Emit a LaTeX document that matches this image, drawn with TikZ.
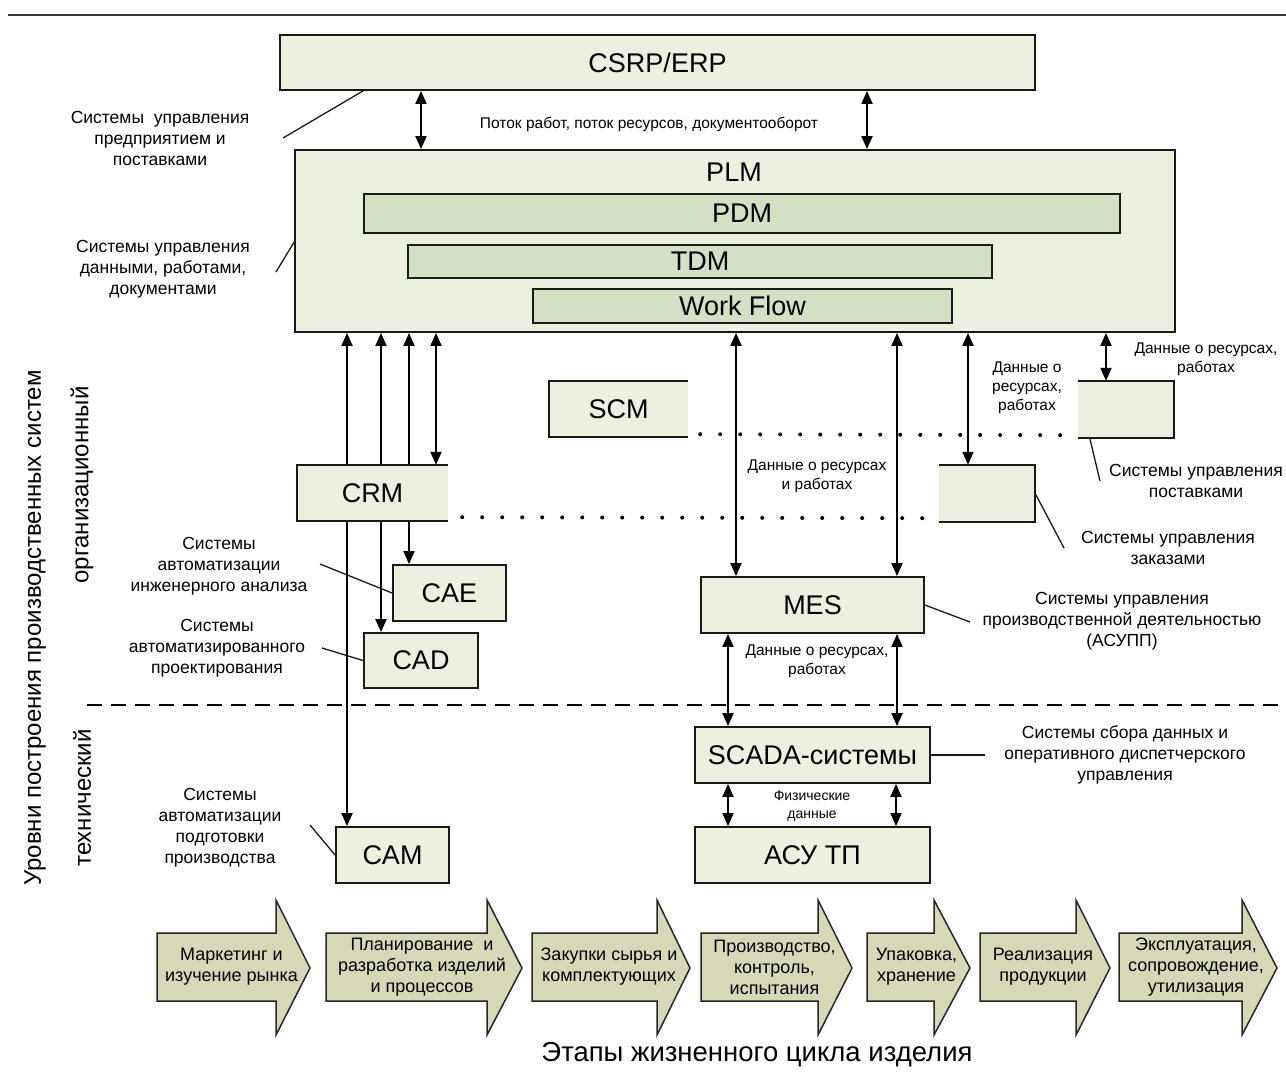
\documentclass[tikz,border=0pt]{standalone}
\usepackage{fontspec}
\setmainfont{Liberation Sans}
\usetikzlibrary{arrows.meta,backgrounds}
\definecolor{boxfill}{HTML}{EBF1DE}
\definecolor{barfill}{HTML}{D3E0C4}
\definecolor{stagefill}{HTML}{D6D8B8}
\newcommand\stagearrow[5]{%
  \draw[stage] (#1,933) -- (#2,933) -- (#2,900) -- (#3,968) -- (#2,1035) -- (#2,1001) -- (#1,1001) -- cycle;
  \node[stagetext] (#4) at ({(#1+#3)/2-2},967) {#5};}

\begin{document}
\begin{tikzpicture}[x=1pt, y=-1pt,
        big/.style={font=\fontsize{27}{32}\selectfont},
        box/.style={big, draw=black!90, line width=1.8pt, fill=boxfill, inner sep=0pt},
        bar/.style={box, fill=barfill},
        half/.style={big, fill=boxfill, inner sep=0pt},
        edge/.style={black!90, line width=1.8pt},
        note/.style={align=center, font=\fontsize{17.5}{21}\selectfont},
        data/.style={align=center, font=\fontsize{15.5}{19}\selectfont},
        lead/.style={black!90, line width=1.3pt},
        link/.style={line width=1.9pt, {Triangle[length=13pt,width=11pt]}-{Triangle[length=13pt,width=11pt]}},
        dotline/.style={line width=4pt, line cap=round, dash pattern=on 0pt off 20pt},
        stage/.style={draw=black!85, line width=1.5pt, fill=stagefill},
        stagetext/.style={align=center, font=\fontsize{18}{21}\selectfont},
    ]
    \useasboundingbox (0,0) rectangle (1286,1072);
    \draw[line width=2pt, black!80] (8,15) -- (1286,15);

    \node[box, minimum width=755pt, minimum height=55pt] (erp) at (657.5,62.5) {CSRP/ERP};
    \node[box, minimum width=880pt, minimum height=182pt] (plm) at (735,241) {};
    \node[big] (plmtitle) at (734,172) {PLM};
    \node[bar, minimum width=756pt, minimum height=39pt] (pdm) at (742,213.5) {PDM};
    \node[bar, minimum width=584pt, minimum height=33pt] (tdm) at (700,261.5) {TDM};
    \node[bar, minimum width=419pt, minimum height=34pt] (wf) at (742.5,306) {Work Flow};

    \node[half, minimum width=139pt, minimum height=56pt] (scm) at (618.5,409) {SCM};
    \draw[edge] (scm.north east) -- (scm.north west) -- (scm.south west) -- (scm.south east);
    \node[half, minimum width=96pt, minimum height=57pt] (sup) at (1126,409.5) {};
    \draw[edge] (sup.north west) -- (sup.north east) -- (sup.south east) -- (sup.south west);
    \node[half, minimum width=151pt, minimum height=56pt] (crm) at (372.5,493) {CRM};
    \draw[edge] (crm.north east) -- (crm.north west) -- (crm.south west) -- (crm.south east);
    \node[half, minimum width=96pt, minimum height=57pt] (ord) at (987,493.5) {};
    \draw[edge] (ord.north west) -- (ord.north east) -- (ord.south east) -- (ord.south west);

    \node[box, minimum width=113pt, minimum height=56pt] (cae) at (449.5,593) {CAE};
    \node[box, minimum width=114pt, minimum height=55pt] (cad) at (421,660.5) {CAD};
    \node[box, minimum width=113pt, minimum height=56pt] (cam) at (392.5,855) {CAM};
    \node[box, minimum width=223pt, minimum height=56pt] (mes) at (812.5,605) {MES};
    \node[box, minimum width=235pt, minimum height=56pt] (scada) at (812.5,755) {SCADA-системы};
    \node[box, minimum width=235pt, minimum height=56pt] (asu) at (812.5,855) {АСУ ТП};

    \coordinate (colerpl) at (421,0);
    \coordinate (colerpr) at (867,0);
    \coordinate (colcam) at (347,0);
    \coordinate (colcad) at (381,0);
    \coordinate (colcae) at (409,0);
    \coordinate (colcrm) at (436,0);
    \coordinate (colmesl) at (736,0);
    \coordinate (colmesr) at (897,0);
    \coordinate (colord) at (968,0);
    \coordinate (colsup) at (1106,0);
    \coordinate (colscl) at (728,0);
    \coordinate (colscr) at (896,0);

    \begin{pgfonlayer}{background}
        \draw[link] (colerpl |- erp.south) -- (colerpl |- plm.north);
        \draw[link] (colerpr |- erp.south) -- (colerpr |- plm.north);
        \draw[link] (colcam |- plm.south) -- (colcam |- cam.north);
        \draw[link] (colcad |- plm.south) -- (colcad |- cad.north);
        \draw[link] (colcae |- plm.south) -- (colcae |- cae.north);
        \draw[link] (colcrm |- plm.south) -- (colcrm |- crm.north);
        \draw[link] (colmesl |- plm.south) -- (colmesl |- mes.north);
        \draw[link] (colmesr |- plm.south) -- (colmesr |- mes.north);
        \draw[link] (colord |- plm.south) -- (colord |- ord.north);
        \draw[link] (colsup |- plm.south) -- (colsup |- sup.north);
        \draw[link] (colscl |- mes.south) -- (colscl |- scada.north);
        \draw[link] (colmesr |- mes.south) -- (colmesr |- scada.north);
        \draw[link] (colscl |- scada.south) -- (colscl |- asu.north);
        \draw[link] (colscr |- scada.south) -- (colscr |- asu.north);
    \end{pgfonlayer}

    \draw[dotline] ([shift={(12pt,3pt)}]scm.south east) -- ([shift={(-12pt,3pt)}]sup.south west);
    \draw[dotline] ([shift={(14pt,4pt)}]crm.south east) -- ([shift={(-6pt,4pt)}]ord.south west);
    \draw[line width=2.5pt, dash pattern=on 14.5pt off 9.5pt] (87,705) -- (1286,705);

    \node[data] (flow) at (649,124) {Поток работ, поток ресурсов, документооборот};
    \node[data] (resmes) at (817,476) {Данные о ресурсах\\и работах};
    \node[data] (resord) at (1027,388) {Данные о\\ресурсах,\\работах};
    \node[data] (ressup) at (1206,359) {Данные о ресурсах,\\работах};
    \node[data] (resscada) at (817,661) {Данные о ресурсах,\\работах};
    \node[align=center, font=\fontsize{14}{18}\selectfont] (phys) at (812,806) {Физические\\данные};

    \node[note] (noteerp) at (160,138) {Системы\ \ управления\\предприятием и\\поставками};
    \node[note] (noteplm) at (163,269) {Системы управления\\данными, работами,\\документами};
    \node[note] (notecae) at (219,566) {Системы\\автоматизации\\инженерного анализа};
    \node[note] (notecad) at (217,648) {Системы\\автоматизированного\\проектирования};
    \node[note] (notecam) at (220,828) {Системы\\автоматизации\\подготовки\\производства};
    \node[note] (notesup) at (1196,481) {Системы управления\\поставками};
    \node[note] (noteord) at (1168,548) {Системы управления\\заказами};
    \node[note] (notemes) at (1122,621) {Системы управления\\производственной деятельностью\\(АСУПП)};
    \node[note] (notescada) at (1125,755) {Системы сбора данных и\\оперативного диспетчерского\\управления};

    \coordinate (lerp) at (283,138);
    \coordinate (lplm) at (276,272);
    \coordinate (lcae) at (320,564);
    \coordinate (lcad) at (322,648);
    \coordinate (lcam) at (310,825);
    \coordinate (lmes) at (970,622);
    \coordinate (lscada) at (985,755);
    \coordinate (lsup) at (1100,481);
    \coordinate (lord) at (1064,548);
    \draw[lead] (lerp) -- ([xshift=84pt]erp.south west);
    \draw[lead] (lplm) -- ([yshift=-93pt]plm.north west);
    \draw[lead] (lcae) -- (cae.west);
    \draw[lead] (lcad) -- (cad.west);
    \draw[lead] (lcam) -- (cam.west);
    \draw[lead] (mes.east) -- (lmes);
    \draw[lead] (scada.east) -- (lscada);
    \draw[lead] ([xshift=12pt]sup.south west) -- (lsup);
    \draw[lead] (ord.east) -- (lord);

    \node[rotate=90, font=\fontsize{24}{28}\selectfont] (levels) at (35,628) {Уровни построения производственных систем};
    \node[rotate=90, font=\fontsize{24}{28}\selectfont] (orglevel) at (82,485) {организационный};
    \node[rotate=90, font=\fontsize{24}{28}\selectfont] (techlevel) at (82,798) {технический};

    \stagearrow{157}{276}{310}{st1}{Маркетинг и\\изучение рынка}
    \stagearrow{326}{487}{522}{st2}{Планирование\ \ и\\разработка изделий\\и процессов}
    \stagearrow{532}{657}{690}{st3}{Закупки сырья и\\комплектующих}
    \stagearrow{701}{818}{852}{st4}{Производство,\\контроль,\\испытания}
    \stagearrow{867}{934}{970}{st5}{Упаковка,\\хранение}
    \stagearrow{980}{1076}{1110}{st6}{Реализация\\продукции}
    \stagearrow{1119}{1242}{1277}{st7}{Эксплуатация,\\сопровождение,\\утилизация}

    \node[font=\fontsize{27.5}{32}\selectfont] (stages) at (757,1055) {Этапы жизненного цикла изделия};
\end{tikzpicture}
\end{document}
